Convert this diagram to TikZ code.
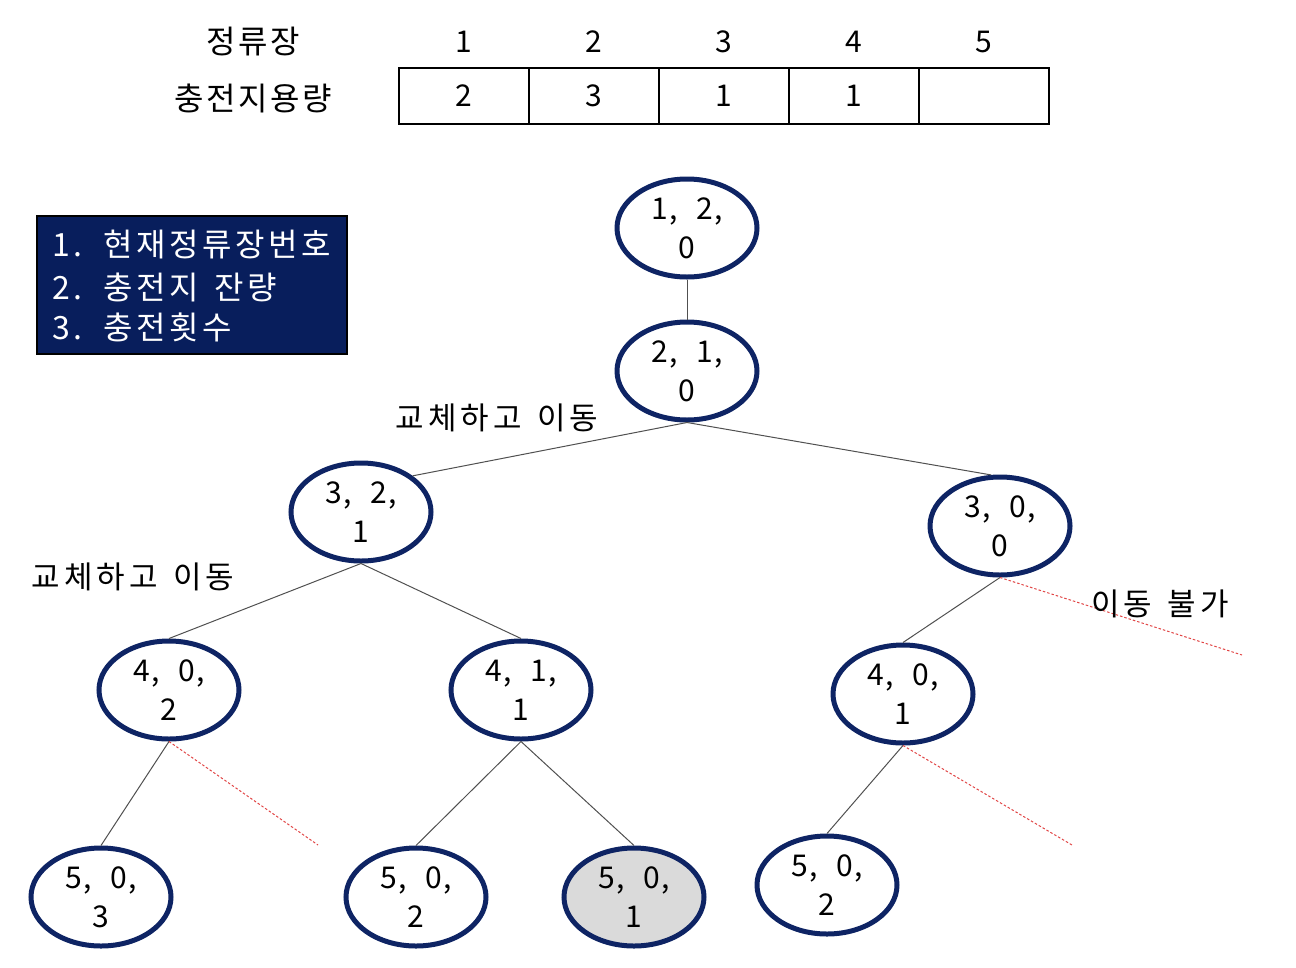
\documentclass[tikz,border=0pt]{standalone}
\usepackage{fontspec}
\setmainfont{Noto Sans CJK KR}
\newfontfamily\krnum[LetterSpace=4,WordSpace=2.4]{Noto Sans CJK KR}
\newfontfamily\krlbl[LetterSpace=13,WordSpace=1.4]{Noto Sans CJK KR}
\newfontfamily\krleg[LetterSpace=11,WordSpace=1.5]{Noto Sans CJK KR}
\newfontfamily\krtab[LetterSpace=8,WordSpace=1.5]{Noto Sans CJK KR}
\usetikzlibrary{shapes.geometric}
\definecolor{ellc}{RGB}{14,36,100}
\definecolor{legc}{RGB}{8,30,92}
\definecolor{edgec}{RGB}{80,80,80}
\definecolor{redc}{RGB}{225,70,70}
\definecolor{grayfill}{RGB}{218,218,218}
\begin{document}
\begin{tikzpicture}[x=1pt,y=-1pt,
  st/.style={ellipse, draw=ellc, line width=5pt, minimum width=140pt, minimum height=98pt,
    inner sep=0pt, align=center, fill=white, font=\krnum\fontsize{30}{39}\selectfont},
  edge/.style={draw=edgec, line width=1pt},
  redge/.style={draw=redc, line width=1pt, dash pattern=on 2.5pt off 2pt},
  lbl/.style={inner sep=0pt, font=\krlbl\fontsize{31}{36}\selectfont},
  tlbl/.style={inner sep=0pt, font=\krtab\fontsize{32}{36}\selectfont},
  cell/.style={draw=black, line width=1.5pt, minimum width=130pt, minimum height=56pt, inner sep=0pt,
    font=\fontsize{30}{36}\selectfont},
  hdr/.style={inner sep=0pt, font=\fontsize{30}{36}\selectfont},
  leg/.style={inner sep=0pt, anchor=west, text=white, font=\krleg\fontsize{32}{36}\selectfont}
]
\useasboundingbox (0,0) rectangle (1296,967);

% table
\node[tlbl] (t1) at (253,42) {정류장};
\node[tlbl] (t2) at (253,98) {충전지용량};
\foreach \i/\v/\h in {1/2/1,2/3/2,3/1/3,4/1/4,5/{}/5}{
  \node[cell] (c\i) at ({399+65+130*(\i-1)},96) {\v};
  \node[hdr] (h\i) at ({399+65+130*(\i-1)},42) {\h};
}

% legend
\node[draw=black, fill=legc, line width=1.5pt, minimum width=310pt, minimum height=138pt, inner sep=0pt] (legend) at (192,285) {};
\node[leg] (lg1) at (52,245) {1.\hspace{21pt}현재정류장번호};
\node[leg] (lg2) at (52,287) {2.\hspace{21pt}충전지 잔량};
\node[leg] (lg3) at (52,327) {3.\hspace{21pt}충전횟수};

% coordinates for dashed ends
\coordinate (rD) at (1242,655);
\coordinate (rE) at (318,845);
\coordinate (rG) at (1072,845);

% nodes
\node[st] (A) at (687,228) {1, 2,\\0};
\node[st] (B) at (687,371) {2, 1,\\0};
\node[st] (C) at (361,512) {3, 2,\\1};
\node[st] (D) at (1000,526) {3, 0,\\0};
\node[st] (E) at (169,690) {4, 0,\\2};
\node[st] (F) at (521,690) {4, 1,\\1};
\node[st] (G) at (903,694) {4, 0,\\1};
\node[st] (H) at (101,897) {5, 0,\\3};
\node[st] (I) at (416,897) {5, 0,\\2};
\node[st, fill=grayfill] (J) at (634,897) {5, 0,\\1};
\node[st] (K) at (827,885) {5, 0,\\2};

% edges
\draw[edge] (A) -- (B);
\draw[edge] (B.south) -- (C.35);
\draw[edge] (B.south) -- (D.100);
\draw[edge] (C.south) -- (E.north);
\draw[edge] (C.south) -- (F.north);
\draw[edge] (D.south) -- (G.north);
\draw[edge] (E.south) -- (H.north);
\draw[edge] (F.south) -- (I.north);
\draw[edge] (F.south) -- (J.north);
\draw[edge] (G.south) -- (K.north);
\draw[redge] (D.south) -- (rD);
\draw[redge] (E.south) -- (rE);
\draw[redge] (G.south) -- (rG);

% labels
\node[lbl] (L1) at (497,418) {교체하고 이동};
\node[lbl] (L2) at (133,577) {교체하고 이동};
\node[lbl] (L3) at (1160,604) {이동 불가};
\end{tikzpicture}
\end{document}
